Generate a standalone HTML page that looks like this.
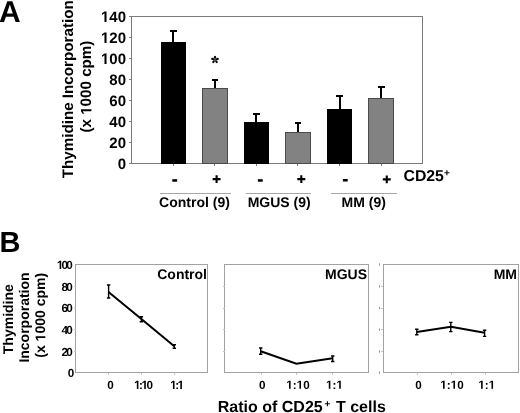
<!DOCTYPE html>
<html><head><meta charset="utf-8">
<style>
html,body{margin:0;padding:0;background:#fff;}
body{width:520px;height:413px;overflow:hidden;}
svg{display:block;filter:grayscale(1);}
text{font-family:"Liberation Sans",sans-serif;font-weight:bold;fill:#000;text-rendering:geometricPrecision;}
</style></head>
<body>
<svg width="520" height="413" viewBox="0 0 520 413">
<rect x="0" y="0" width="520" height="413" fill="#fff"></rect>

<!-- ===== Panel A ===== -->
<text x="-1" y="21.6" font-size="30">A</text>

<!-- y label -->
<text transform="translate(73.3,89.3) rotate(-90)" text-anchor="middle" font-size="15.2">Thymidine Incorporation</text>
<text transform="translate(91.4,86.6) rotate(-90)" text-anchor="middle" font-size="15.2">(x  000 cpm)</text><path d="M-24.74 0.00L-24.74 -8.68L-27.25 -7.12L-27.25 -8.76L-24.63 -10.46L-22.66 -10.46L-22.66 0.00Z" transform="translate(91.4,86.6) rotate(-90)"></path>

<!-- y tick labels -->
<g font-size="15" text-anchor="end">
<text x="126" y="21.9"> 40</text><path d="M104.47 21.90L104.47 13.33L101.99 14.88L101.99 13.26L104.58 11.58L106.53 11.58L106.53 21.90Z"></path>
<text x="126" y="42.9"> 20</text><path d="M104.47 42.90L104.47 34.33L101.99 35.88L101.99 34.26L104.58 32.58L106.53 32.58L106.53 42.90Z"></path>
<text x="126" y="63.9"> 00</text><path d="M104.47 63.90L104.47 55.33L101.99 56.88L101.99 55.26L104.58 53.58L106.53 53.58L106.53 63.90Z"></path>
<text x="126" y="84.9">80</text>
<text x="126" y="105.9">60</text>
<text x="126" y="126.9">40</text>
<text x="126" y="147.9">20</text>
<text x="126" y="168.9">0</text>
</g>

<!-- frame -->
<g stroke="#7c7c7c" stroke-width="1" fill="none" shape-rendering="crispEdges">
<rect x="131.5" y="16.5" width="291" height="147"></rect>
<path d="M129 16.5H131.5M129 37.5H131.5M129 58.5H131.5M129 79.5H131.5M129 100.5H131.5M129 121.5H131.5M129 142.5H131.5M129 163.5H131.5"></path>
<path d="M173.5 163.5V166M214.5 163.5V166M256.5 163.5V166M297.5 163.5V166M339.5 163.5V166M381.5 163.5V166"></path>
</g>

<!-- bars -->
<g shape-rendering="crispEdges">
<rect x="160.5" y="42" width="25.5" height="121.5" fill="#000"></rect>
<rect x="202.5" y="88.5" width="25" height="75" fill="#828282" stroke="#4a4a4a" stroke-width="1"></rect>
<rect x="244" y="122" width="25" height="41.5" fill="#000"></rect>
<rect x="285.5" y="132.5" width="25" height="31" fill="#828282" stroke="#4a4a4a" stroke-width="1"></rect>
<rect x="327" y="109" width="25" height="54.5" fill="#000"></rect>
<rect x="368.5" y="98.5" width="25" height="65" fill="#828282" stroke="#4a4a4a" stroke-width="1"></rect>
</g>
<!-- error bars -->
<g stroke="#000" stroke-width="2" fill="none" shape-rendering="crispEdges">
<path d="M173 42V31M170 31H176.5"></path>
<path d="M215 88V80M211.5 80H218"></path>
<path d="M256.2 122V114M253.2 114H259.5"></path>
<path d="M297.7 132V123M294.8 123H301"></path>
<path d="M339.5 109V96M336 96H343"></path>
<path d="M381 98V87M377.5 87H384.5"></path>
</g>
<g fill="#000" stroke="#000" stroke-width="0.6">
<line x1="215.00" y1="59.70" x2="215.00" y2="56.40"></line>
<line x1="215.00" y1="59.70" x2="218.14" y2="58.68"></line>
<line x1="215.00" y1="59.70" x2="216.94" y2="62.37"></line>
<line x1="215.00" y1="59.70" x2="213.06" y2="62.37"></line>
<line x1="215.00" y1="59.70" x2="211.86" y2="58.68"></line>
</g>
<g fill="#000">
<ellipse cx="215.00" cy="57.20" rx="1.5" ry="1.1" transform="rotate(-90 215.00 57.20)"></ellipse>
<ellipse cx="217.38" cy="58.93" rx="1.5" ry="1.1" transform="rotate(-18 217.38 58.93)"></ellipse>
<ellipse cx="216.47" cy="61.72" rx="1.5" ry="1.1" transform="rotate(54 216.47 61.72)"></ellipse>
<ellipse cx="213.53" cy="61.72" rx="1.5" ry="1.1" transform="rotate(126 213.53 61.72)"></ellipse>
<ellipse cx="212.62" cy="58.93" rx="1.5" ry="1.1" transform="rotate(198 212.62 58.93)"></ellipse>
</g>

<!-- category labels -->
<g fill="#000"><rect x="172.3" y="179.2" width="4.8" height="2.5"></rect><rect x="257.9" y="179.2" width="4.8" height="2.5"></rect><rect x="342.9" y="179.0" width="4.8" height="2.5"></rect></g>
<path d="M212.60 179.10H220.60M216.60 175.20V183.00M297.30 179.10H305.30M301.30 175.20V183.00M382.75 179.40H390.75M386.75 175.50V183.30" stroke="#000" stroke-width="2.1" fill="none"></path>
<g stroke="#a8a8a8" stroke-width="1" shape-rendering="crispEdges">
<path d="M160 193.5H230.5M245.5 193.5H311M331 193.5H396.5"></path>
</g>
<g font-size="14" text-anchor="middle">
<text x="194.5" y="207.4">Control (9)</text>
<text x="279.2" y="207.4">MGUS (9)</text>
<text x="363.7" y="207.4">MM (9)</text>
</g>
<text x="403.5" y="180.5" font-size="15.8">CD25</text>
<text x="444" y="176.4" font-size="10">+</text>

<!-- ===== Panel B ===== -->
<text x="-0.5" y="252" font-size="29">B</text>

<g font-size="14" text-anchor="middle">
<text transform="translate(12.5,319.2) rotate(-90)">Thymidine</text>
<text transform="translate(29.3,317.5) rotate(-90)">Incorporation</text>
<text transform="translate(45.3,315.3) rotate(-90)">(x  000 cpm)</text><path d="M-22.82 0.00L-22.82 -8.00L-25.13 -6.56L-25.13 -8.07L-22.72 -9.63L-20.90 -9.63L-20.90 0.00Z" transform="translate(45.3,315.3) rotate(-90)"></path>
</g>

<!-- plot frames -->
<g stroke="#a2a2a2" stroke-width="1" fill="none" shape-rendering="crispEdges">
<rect x="75.5" y="264.5" width="132" height="108"></rect>
<rect x="224.5" y="264.5" width="144" height="108"></rect>
<rect x="383" y="264.5" width="135.5" height="108"></rect>
</g>
<g stroke="#c4c4c4" stroke-width="1" fill="none" shape-rendering="crispEdges">
<path d="M73.5 286.5H75.5M73.5 308.5H75.5M73.5 329.5H75.5M73.5 351.5H75.5"></path>
<path d="M222.5 286.5H224.5M222.5 308.5H224.5M222.5 329.5H224.5M222.5 351.5H224.5"></path>
<path d="M381 286.5H383M381 308.5H383M381 329.5H383M381 351.5H383"></path>
</g>
<g fill="#9a9a9a"><rect x="379" y="263.3" width="1" height="2.5"></rect><rect x="379" y="285.1" width="1" height="2.5"></rect><rect x="379" y="306.8" width="1" height="2.5"></rect><rect x="379" y="328.5" width="1" height="2.5"></rect><rect x="379" y="350.2" width="1" height="2.5"></rect><rect x="379" y="371.4" width="1" height="2.5"></rect>
</g>
<g stroke="#c4c4c4" stroke-width="1" fill="none" shape-rendering="crispEdges">
<path d="M108.5 372.5V374.5M141.5 372.5V374.5M174.5 372.5V374.5"></path>
<path d="M261 372.5V374.5M296.5 372.5V374.5M332.5 372.5V374.5"></path>
<path d="M417 372.5V374.5M451 372.5V374.5M485 372.5V374.5"></path>
</g>

<!-- plot1 tick labels -->
<g font-size="11.7" text-anchor="end" letter-spacing="-1.8">
<text x="71" y="268.9"> 00</text><path d="M59.62 268.90L59.62 262.22L57.69 263.42L57.69 262.16L59.71 260.85L61.23 260.85L61.23 268.90Z"></path>
<text x="71" y="290.6">80</text>
<text x="71" y="312.3">60</text>
<text x="71" y="334">40</text>
<text x="71" y="355.7">20</text>
<text x="72.5" y="377.2">0</text>
</g>
<g font-size="11.7" text-anchor="middle" letter-spacing="-1.5">
<text x="109.7" y="388.9">0</text>
<text x="142.8" y="388.9"> : 0</text><path d="M136.83 388.90L136.83 382.22L134.90 383.42L134.90 382.16L136.91 380.85L138.43 380.85L138.43 388.90ZM144.22 388.90L144.22 382.22L142.29 383.42L142.29 382.16L144.30 380.85L145.82 380.85L145.82 388.90Z"></path>
<text x="176.4" y="388.9"> : </text><path d="M172.93 388.90L172.93 382.22L171.00 383.42L171.00 382.16L173.01 380.85L174.53 380.85L174.53 388.90ZM180.32 388.90L180.32 382.22L178.39 383.42L178.39 382.16L180.40 380.85L181.92 380.85L181.92 388.90Z"></path>
</g>
<g font-size="11.7" text-anchor="middle">
<text x="262.2" y="388.7">0</text>
<text x="298" y="388.7"> : 0</text><path d="M289.03 388.70L289.03 382.02L287.10 383.22L287.10 381.96L289.11 380.65L290.63 380.65L290.63 388.70ZM299.42 388.70L299.42 382.02L297.49 383.22L297.49 381.96L299.50 380.65L301.02 380.65L301.02 388.70Z"></path>
<text x="334.5" y="388.7"> : </text><path d="M328.78 388.70L328.78 382.02L326.85 383.22L326.85 381.96L328.86 380.65L330.38 380.65L330.38 388.70ZM339.17 388.70L339.17 382.02L337.24 383.22L337.24 381.96L339.25 380.65L340.77 380.65L340.77 388.70Z"></path>
<text x="418.5" y="388.7">0</text>
<text x="452" y="388.7"> : 0</text><path d="M443.03 388.70L443.03 382.02L441.10 383.22L441.10 381.96L443.11 380.65L444.63 380.65L444.63 388.70ZM453.42 388.70L453.42 382.02L451.49 383.22L451.49 381.96L453.50 380.65L455.02 380.65L455.02 388.70Z"></path>
<text x="486.8" y="388.7"> : </text><path d="M481.08 388.70L481.08 382.02L479.15 383.22L479.15 381.96L481.16 380.65L482.68 380.65L482.68 388.70ZM491.47 388.70L491.47 382.02L489.54 383.22L489.54 381.96L491.55 380.65L493.07 380.65L493.07 388.70Z"></path>
</g>

<!-- titles -->
<g font-size="14" text-anchor="end">
<text x="207" y="279.4">Control</text>
<text x="367" y="279.3">MGUS</text>
<text x="517" y="278.6">MM</text>
</g>

<!-- data lines -->
<g stroke="#000" fill="none">
<polyline stroke-width="2" points="108.5,292 141.4,319.1 174.3,346.2"></polyline>
<polyline stroke-width="2" points="260.7,351.2 296.4,363.7 332.7,358.2"></polyline>
<polyline stroke-width="2" points="416.8,332 450.9,326.8 484.6,332.7"></polyline>
</g>
<g stroke="#000" fill="none" stroke-width="1.4">
<path d="M108.6 285.0V298.0M106.9 285.0H110.3M106.9 298.0H110.3M141.4 316.8V321.8M139.7 316.8H143.1M139.7 321.8H143.1M174.3 344.8V348.2M172.6 344.8H176.0M172.6 348.2H176.0"></path>
<path d="M260.7 348.0V354.2M259.0 348.0H262.4M259.0 354.2H262.4M332.7 356.0V361.5M331.0 356.0H334.4M331.0 361.5H334.4"></path>
<path d="M416.8 329.3V334.8M415.1 329.3H418.5M415.1 334.8H418.5M450.8 322.4V331.6M449.1 322.4H452.5M449.1 331.6H452.5M484.6 330.3V336.4M482.9 330.3H486.3M482.9 336.4H486.3"></path>
</g>

<!-- caption -->
<text x="217.8" y="411.5" font-size="16">Ratio of CD25</text>
<text x="324.4" y="406.5" font-size="10">+</text>
<text x="336" y="411.5" font-size="16">T cells</text>
</svg>

</body></html>
